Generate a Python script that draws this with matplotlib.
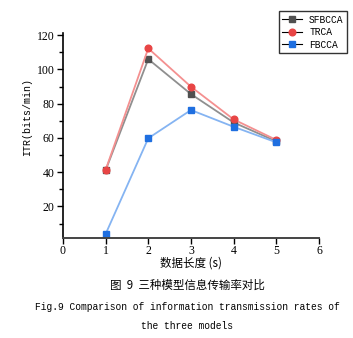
import matplotlib
matplotlib.use("Agg")
import matplotlib.pyplot as plt
from matplotlib.ticker import MultipleLocator
from matplotlib.font_manager import FontProperties

x = [1, 2, 3, 4, 5]
sfbcca = [41, 106, 85.6, 69, 58]
trca = [41.2, 112.3, 89.9, 70.8, 58.8]
fbcca = [3.8, 59.8, 76.3, 66.5, 57.4]
xticks = [0, 1, 2, 3, 4, 5, 6]
yticks = [20, 40, 60, 80, 100, 120]

plt.rcParams['font.family'] = ['Liberation Serif', 'Noto Sans CJK SC']

fig = plt.figure(figsize=(3.53, 3.38), dpi=100)
ax = fig.add_axes([0.178, 0.296, 0.726, 0.606])

ax.plot(x, sfbcca, color='#8f8f8f', lw=1.3, marker='s', ms=4.8, mfc='#505050', mec='#505050', label='SFBCCA')
ax.plot(x, trca, color='#f49090', lw=1.3, marker='o', ms=4.8, mfc='#e84545', mec='#e84545', label='TRCA')
ax.plot(x, fbcca, color='#85b4f2', lw=1.3, marker='s', ms=4.8, mfc='#1f6fe0', mec='#1f6fe0', label='FBCCA')

ax.set_xlim(0, 6)
ax.set_ylim(1.6, 121.2)
ax.set_xticks(xticks)
ax.set_yticks(yticks)
ax.yaxis.set_minor_locator(MultipleLocator(10))
ax.spines['top'].set_visible(False)
ax.spines['right'].set_visible(False)
ax.spines['left'].set_linewidth(1.2)
ax.spines['bottom'].set_linewidth(1.4)
ax.spines['bottom'].set_color('#444444')
ax.tick_params(axis='both', labelsize=8.5, length=4, width=1, pad=2)
ax.tick_params(axis='x', pad=1)
ax.tick_params(axis='y', which='minor', length=3, width=1)

mono = FontProperties(family='Liberation Mono', size=6.9)
ax.set_ylabel('ITR(bits/min)', fontproperties=FontProperties(family='Liberation Mono', size=7.2))
ax.yaxis.set_label_coords(-0.12, 0.59)
ax.set_xlabel('数据长度 (s)', fontsize=8.3, family=['Noto Sans CJK SC'], labelpad=0)

leg = fig.legend(loc='upper right', bbox_to_anchor=(0.983, 0.966),
                 frameon=True, fancybox=False, edgecolor='black', borderpad=0.35,
                 handlelength=2.1, handletextpad=0.7, labelspacing=0.25,
                 borderaxespad=0, prop=mono)
leg.get_frame().set_linewidth(1.0)
for h, c in zip(leg.legend_handles, ['#505050', '#e84545', '#1f6fe0']):
    h.set_color('black')
    h.set_linewidth(0.8)
    h.set_markerfacecolor(c)
    h.set_markeredgecolor(c)

fig.text(0.53, 1 - 285 / 338, '图  9  三种模型信息传输率对比', ha='center', va='center',
         fontsize=8.3, family=['Noto Sans CJK SC'])
fig.text(0.53, 1 - 307 / 338, 'Fig.9 Comparison of information transmission rates of',
         ha='center', va='center', fontproperties=FontProperties(family='Liberation Mono', size=6.95))
fig.text(0.53, 1 - 326 / 338, 'the three models', ha='center', va='center',
         fontproperties=FontProperties(family='Liberation Mono', size=6.95))

fig.savefig('out.png', dpi=100)
